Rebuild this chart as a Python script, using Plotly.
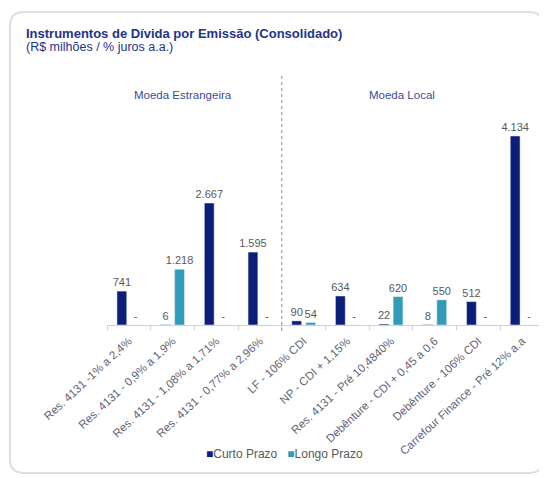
import plotly.graph_objects as go

# categorias e valores (R$ milhões)
categorias = [
    "Res. 4131 -1% a 2,4%",
    "Res. 4131 - 0,9% a 1,9%",
    "Res. 4131 - 1,08% a 1,71%",
    "Res. 4131 - 0,77% a 2,96%",
    "LF - 106% CDI",
    "NP - CDI + 1,15%",
    "Res. 4131 - Pré 10,4840%",
    "Debênture - CDI + 0,45 a 0,6",
    "Debênture - 106% CDI",
    "Carrefour Finance - Pré 12% a.a",
]
curto_prazo = [741, 6, 2667, 1595, 90, 634, 22, 8, 512, 4134]
longo_prazo = [0, 1218, 0, 0, 54, 0, 620, 550, 0, 0]

# the page body has an 8px margin, so the figure is drawn 8px smaller
OFF = 8
W, H = 547 - OFF, 478 - OFF
DARK = "#0d1e78"
TEAL = "#2f9cb8"
GRAY = "#595959"
BLUE_TXT = "#23338a"


def fmt(v):
    return f"{v:,}".replace(",", ".") if v else "-"


def px_x(p):
    return (p - OFF) / W


def px_y(p):
    return 1 - (p - OFF) / H


fig = go.Figure()
fig.add_trace(go.Bar(x=categorias, y=curto_prazo, name="Curto Prazo",
                     marker_color=DARK, text=[fmt(v) for v in curto_prazo],
                     textposition="outside", cliponaxis=False, constraintext="none",
                     textfont=dict(size=11, color=GRAY)))
fig.add_trace(go.Bar(x=categorias, y=longo_prazo, name="Longo Prazo",
                     marker_color=TEAL, text=[fmt(v) for v in longo_prazo],
                     textposition="outside", cliponaxis=False, constraintext="none",
                     textfont=dict(size=11, color=GRAY)))

# card com cantos arredondados
x0, y0, x1, y1, r = px_x(10), px_y(12), px_x(543), px_y(473), 14
rx, ry = r / W, r / H
card = (f"M {x0+rx} {y0} L {x1-rx} {y0} Q {x1} {y0} {x1} {y0-ry} "
        f"L {x1} {y1+ry} Q {x1} {y1} {x1-rx} {y1} "
        f"L {x0+rx} {y1} Q {x0} {y1} {x0} {y1+ry} "
        f"L {x0} {y0-ry} Q {x0} {y0} {x0+rx} {y0} Z")
fig.add_shape(type="path", path=card, xref="paper", yref="paper",
              line=dict(color="#dedede", width=2), layer="below")

# separador Moeda Estrangeira / Moeda Local
fig.add_shape(type="line", xref="x", yref="paper", x0=3.5, x1=3.5,
              y0=px_y(331), y1=px_y(76),
              line=dict(color="#8a8a8a", width=1, dash="3px,3px"))

fig.add_annotation(text="<b>Instrumentos de Dívida por Emissão (Consolidado)</b>",
                   xref="paper", yref="paper", x=px_x(24), y=px_y(33),
                   xanchor="left", yanchor="middle", showarrow=False,
                   font=dict(size=13, color=BLUE_TXT))
fig.add_annotation(text="(R$ milhões / % juros a.a.)",
                   xref="paper", yref="paper", x=px_x(24), y=px_y(47),
                   xanchor="left", yanchor="middle", showarrow=False,
                   font=dict(size=12.5, color=BLUE_TXT))
fig.add_annotation(text="Moeda Estrangeira", xref="paper", yref="paper",
                   x=px_x(183), y=px_y(87), xanchor="center", showarrow=False,
                   font=dict(size=11.5, color="#3c4a9a"))
fig.add_annotation(text="Moeda Local", xref="paper", yref="paper",
                   x=px_x(402), y=px_y(87), xanchor="center", showarrow=False,
                   font=dict(size=11.5, color="#3c4a9a"))

# legenda compacta no estilo do Excel
legenda = "   ".join(f"<span style='color:{c}'>■</span>{t.name}"
                      for c, t in zip([DARK, TEAL], fig.data))
fig.add_annotation(text=legenda, xref="paper", yref="paper",
                   x=px_x(284), y=px_y(463), xanchor="center", showarrow=False,
                   font=dict(size=12, color=GRAY))

fig.update_layout(
    width=W, height=H,
    margin=dict(l=0, r=0, t=0, b=0, autoexpand=False),
    paper_bgcolor="white", plot_bgcolor="white",
    font=dict(family="Liberation Sans, Arial, sans-serif", color=GRAY),
    separators=",.",
    barmode="group", bargap=0.36, bargroupgap=0.3,
    showlegend=False,
)
fig.update_xaxes(domain=[px_x(107), px_x(544)], tickangle=-43, automargin=False,
                 tickfont=dict(size=11.5, color="#5f6475"), showline=True,
                 linecolor="#d0d0d0", ticks="outside", tickson="boundaries",
                 ticklen=4, tickcolor="#d0d0d0", showgrid=False,
                 ticklabelstandoff=4)
fig.update_yaxes(domain=[px_y(325), px_y(90)], range=[0, 5140], automargin=False,
                 visible=False, showgrid=False)

fig.write_html("out.html")
